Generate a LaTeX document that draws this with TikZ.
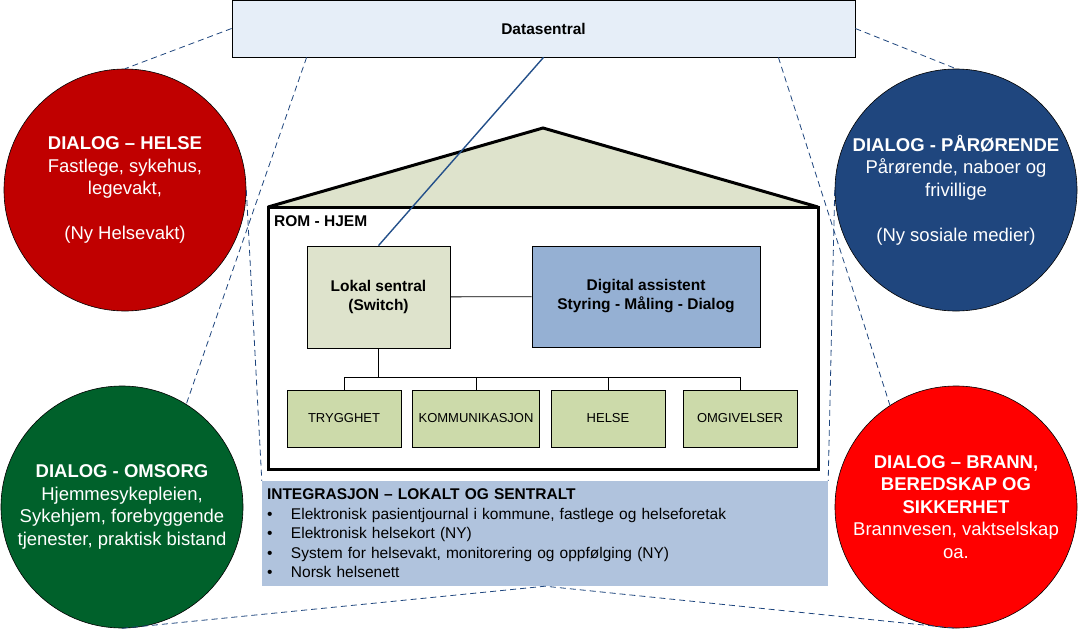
\documentclass[tikz,border=0pt]{standalone}
\usepackage{fontspec}
\setmainfont{Liberation Sans}
\usepackage{xcolor}
\usetikzlibrary{positioning,calc,backgrounds}
\definecolor{datafill}{HTML}{E6EEF8}
\definecolor{roofgreen}{HTML}{DEE3CC}
\definecolor{leafgreen}{HTML}{CCDAAA}
\definecolor{digblue}{HTML}{95B0D3}
\definecolor{integblue}{HTML}{B0C3DD}
\definecolor{linkblue}{HTML}{24508A}
\definecolor{helsered}{HTML}{C00000}
\definecolor{navyblue}{HTML}{1F467E}
\definecolor{omsgreen}{HTML}{00612B}
\definecolor{brannred}{HTML}{FF0000}
\newcommand{\blt}{\makebox[24pt][l]{\textbullet}}

\begin{document}
\begin{tikzpicture}[x=1pt,y=-1pt,
    box/.style={draw,line width=0.8pt,align=center,font=\fontsize{15.5}{19}\selectfont\bfseries},
    leaf/.style={draw,line width=0.8pt,fill=leafgreen,minimum width=114pt,minimum height=57pt,inner sep=6pt,font=\fontsize{13}{15}\selectfont},
    dialog/.style={circle,draw=black,line width=0.6pt,minimum size=242pt,inner sep=0pt,align=center,text=white,font=\fontsize{18.5}{22.5}\selectfont},
    zoomline/.style={draw=navyblue,line width=0.8pt,dash pattern=on 6pt off 4pt}]
    \useasboundingbox (0,0) rectangle (1078,629);
    \node[box,fill=datafill,minimum width=623pt,minimum height=57pt] (data) at (543.5,28.5) {Datasentral};
    \node[dialog,fill=helsered] (hel) at (125,190) {\textbf{DIALOG – HELSE}\\Fastlege, sykehus,\\legevakt,\\[22.5pt](Ny Helsevakt)};
    \node[dialog,fill=navyblue] (paar) at (956,190) {\textbf{DIALOG - PÅRØRENDE}\\Pårørende, naboer og\\frivillige\\[22.5pt](Ny sosiale medier)};
    \node[dialog,fill=omsgreen] (oms) at (122,507) {\textbf{DIALOG - OMSORG}\\Hjemmesykepleien,\\Sykehjem, forebyggende\\tjenester, praktisk bistand};
    \node[dialog,fill=brannred] (brann) at (956,507) {\textbf{DIALOG – BRANN,}\\\textbf{BEREDSKAP OG}\\\textbf{SIKKERHET}\\Brannvesen, vaktselskap\\oa.};
    \node[fill=integblue,minimum width=566pt,minimum height=105pt,text width=556pt,inner sep=5pt,align=left,font=\fontsize{15.5}{19.5}\selectfont] (integ) at (545,533.5)
      {\textbf{INTEGRASJON – LOKALT OG SENTRALT}\\
       \blt Elektronisk pasientjournal i kommune, fastlege og helseforetak\\
       \blt Elektronisk helsekort (NY)\\
       \blt System for helsevakt, monitorering og oppfølging (NY)\\
       \blt Norsk helsenett};
    \node[draw,line width=3pt,outer sep=0pt,minimum width=550pt,minimum height=262pt] (rom) at (543,338) {};
    \coordinate (apex) at (543,128);
    \begin{scope}[on background layer]
      \draw[line width=3pt,fill=roofgreen] (rom.north west) -- (apex) -- (rom.north east);
    \end{scope}
    \node[anchor=north west,inner sep=3pt,font=\fontsize{15.5}{19}\selectfont\bfseries] (romlbl) at ($(rom.north west)+(3,5)$) {ROM - HJEM};
    \node[box,fill=roofgreen,minimum width=143pt,minimum height=102pt] (lok) at (378.5,297) {Lokal sentral\\(Switch)};
    \node[box,fill=digblue,minimum width=228pt,minimum height=101pt] (dig) at (646,296.5) {Digital assistent\\Styring - Måling - Dialog};
    \draw[line width=0.8pt] (lok) -- (dig);
    \foreach \name/\txt [count=\i] in {tryg/TRYGGHET,komm/KOMMUNIKASJON,hels/HELSE,omg/OMGIVELSER}
      \node[leaf] (\name) at (344+132*\i-132,418.5) {\txt};
    \coordinate (hub) at ($(lok.south)+(0,29)$);
    \draw[line width=0.8pt] (lok.south) -- (hub);
    \foreach \name in {tryg,komm,hels,omg}
      \draw[line width=0.8pt] (hub) -| (\name.north);
    \draw[linkblue,line width=1.4pt] (data.south) -- (lok.north);
    \draw[zoomline] (data.west) -- (hel.north);
    \draw[zoomline] ([xshift=75pt]data.south west) -- (oms.58);
    \draw[zoomline] (hel.east) -- (integ.north west);
    \draw[zoomline] (data.east) -- (paar.north);
    \draw[zoomline] ([xshift=-77pt]data.south east) -- (brann.123);
    \draw[zoomline] (paar.west) -- (integ.north east);
    \draw[zoomline] (oms.south) -- (integ.south) -- (brann.south);
  \end{tikzpicture}
\end{document}
